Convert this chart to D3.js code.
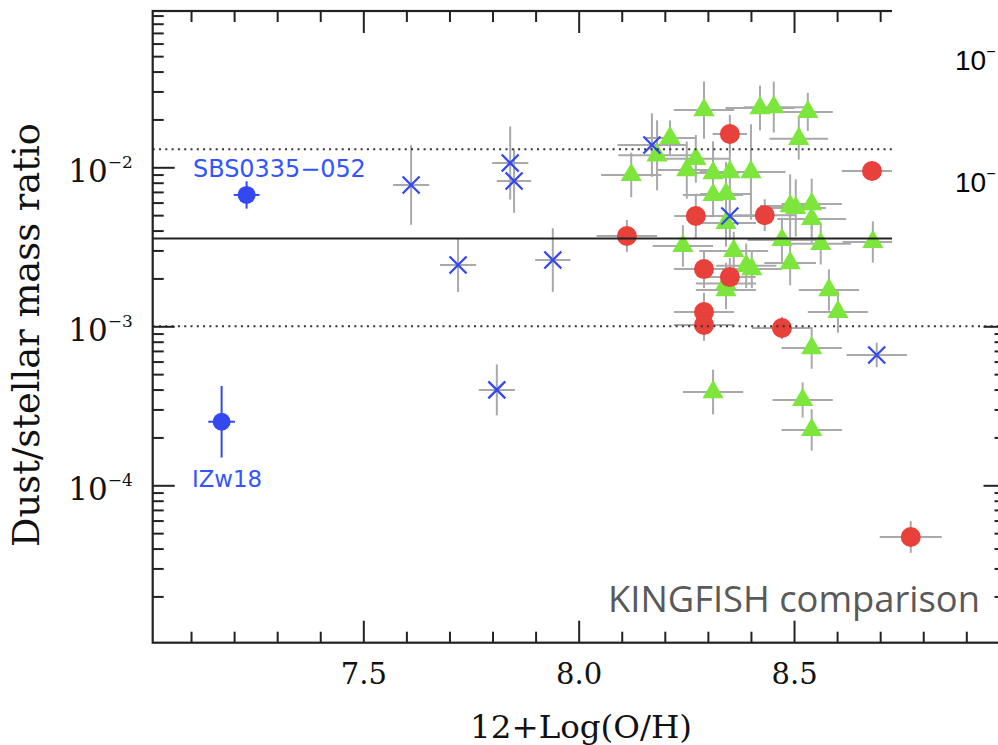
<!DOCTYPE html>
<html><head><meta charset="utf-8">
<script src="https://cdn.jsdelivr.net/npm/d3@7"></script>
<style>body{margin:0;background:#fff}svg{display:block}</style>
</head><body>
<script>
// ---------------- DATA ----------------
// KINGFISH galaxies (green triangles): 12+log(O/H), dust/stellar ratio, x error, y error (dex)
const triO     = [8.291,8.212,8.182,8.122,8.272,8.251,8.312,8.351,8.400,8.312,8.342,8.342,8.242,8.360,8.421,8.453,8.532,8.511,8.491,8.504,8.541,8.541,8.472,8.562,8.683,8.389,8.402,8.491,8.342,8.342,8.581,8.602,8.541,8.312,8.520,8.541];
const triRatio = [2.29e-2,1.53e-2,1.19e-2,8.95e-3,1.13e-2,9.6e-3,9.2e-3,9.34e-3,9.34e-3,6.7e-3,6.8e-3,4.47e-3,3.2e-3,2.98e-3,2.36e-2,2.39e-2,2.23e-2,1.51e-2,5.7e-3,5.55e-3,5.87e-3,4.73e-3,3.49e-3,3.3e-3,3.39e-3,2.4e-3,2.29e-3,2.5e-3,1.86e-3,1.69e-3,1.69e-3,1.23e-3,7.3e-4,3.86e-4,3.44e-4,2.23e-4];
const triXerr  = [0.07,0.058,0.09,0.07,0.08,0.07,0.06,0.07,0.08,0.07,0.06,0.07,0.07,0.08,0.08,0.07,0.058,0.068,0.07,0.07,0.07,0.08,0.08,0.07,0.07,0.07,0.07,0.06,0.07,0.07,0.07,0.07,0.07,0.07,0.07,0.07];
const triYerr  = [0.18,0.11,0.22,0.14,0.15,0.18,0.2,0.24,0.3,0.14,0.2,0.15,0.13,0.12,0.14,0.16,0.12,0.13,0.2,0.18,0.16,0.15,0.14,0.13,0.13,0.14,0.12,0.14,0.13,0.12,0.13,0.13,0.13,0.14,0.11,0.13];

// red circles
const redO     = [8.351,8.681,8.272,8.432,8.112,8.291,8.351,8.291,8.291,8.472,8.771];
const redRatio = [1.62e-2,9.48e-3,4.94e-3,5.0e-3,3.7e-3,2.29e-3,2.04e-3,1.23e-3,1.02e-3,9.76e-4,4.73e-5];
const redXerr  = [0.04,0.07,0.05,0.07,0.07,0.07,0.06,0.07,0.07,0.07,0.072];
const redYerr  = [0.12,0.06,0.14,0.1,0.1,0.12,0.12,0.12,0.1,0.07,0.1];

// blue crosses
const crossO     = [7.611,7.841,7.850,7.720,7.940,7.810,8.170,8.351,8.692];
const crossRatio = [7.74e-3,1.064e-2,8.2e-3,2.43e-3,2.61e-3,3.98e-4,1.38e-2,4.94e-3,6.6e-4];
const crossXerr  = [0.042,0.042,0.04,0.042,0.041,0.042,0.08,0.06,0.07];
const crossYerr  = [0.25,0.23,0.2,0.17,0.2,0.16,0.2,0.15,0.077];

// named low-metallicity dwarfs (blue filled circles)
const namedLabels = ["SBS0335\u2212052","IZw18"];
const namedO      = [7.229,7.171];
const namedRatio  = [6.7e-3,2.51e-4];
const namedXerr   = [0.03,0.031];
const namedYerr   = [0.086,0.225];

// reference lines
const dottedLevels = [1.3e-2,1.0e-3];
const solidLevel   = 3.57e-3;

// ticks
const xMajorTicks = [7.5,8.0,8.5];
const xMinorTicks = [7.1,7.2,7.3,7.4,7.6,7.7,7.8,7.9,8.1,8.2,8.3,8.4,8.6,8.7,8.8,8.9];
const yMajorTicks = [1e-2,1e-3,1e-4];
const yMinorTicks = [];
[-5,-4,-3,-2].forEach(e=>{for(let m=2;m<=9;m++) yMinorTicks.push(m*Math.pow(10,e));});

const xTitle = "12+Log(O/H)";
const yTitle = "Dust/stellar mass ratio";
const note   = "KINGFISH comparison";
const sideLabels = ["10","10"];   // cut-off labels of the neighbouring panel

// ---------------- LAYOUT ----------------
const W=998,H=745;
const L=152.7,R=1005.5,T=11,B=642.7;
const x = d3.scaleLinear().domain([7.011,8.991]).range([L,R]);
const y = d3.scaleLog().domain([Math.pow(10,-4.99),Math.pow(10,-1.017)]).range([B,T]);

const svg = d3.select("body").append("svg").attr("width",W).attr("height",H);

const C_GREEN="#7ce63c", C_RED="#e8403a", C_BLUE="#3448f2", C_ERR="#a9a9a9", C_AX="#222";

function pts(O,V,XE,YE){return O.map((o,i)=>({o,v:V[i],xe:XE[i],ye:YE[i]}));}
const tri=pts(triO,triRatio,triXerr,triYerr);
const red=pts(redO,redRatio,redXerr,redYerr);
const crs=pts(crossO,crossRatio,crossXerr,crossYerr);
const nam=pts(namedO,namedRatio,namedXerr,namedYerr);

// error bars
function errBars(data,color,w){
  const g=svg.append("g").attr("stroke",color).attr("stroke-width",w);
  g.selectAll(".h").data(data).join("line")
    .attr("x1",d=>x(d.o-d.xe)).attr("x2",d=>x(d.o+d.xe))
    .attr("y1",d=>y(d.v)).attr("y2",d=>y(d.v));
  g.selectAll(".v").data(data).join("line")
    .attr("x1",d=>x(d.o)).attr("x2",d=>x(d.o))
    .attr("y1",d=>y(d.v*Math.pow(10,-d.ye))).attr("y2",d=>y(d.v*Math.pow(10,d.ye)));
}
errBars(tri,C_ERR,2);
errBars(red,C_ERR,2);
errBars(crs,C_ERR,2);
errBars(nam,C_BLUE,2);

// markers
svg.append("g").selectAll("path").data(tri).join("path")
  .attr("d",d3.symbol(d3.symbolTriangle,195))
  .attr("transform",d=>`translate(${x(d.o)},${y(d.v)})`)
  .attr("fill",C_GREEN);
svg.append("g").selectAll("circle").data(red).join("circle")
  .attr("cx",d=>x(d.o)).attr("cy",d=>y(d.v)).attr("r",10).attr("fill",C_RED);
svg.append("g").selectAll("circle").data(nam).join("circle")
  .attr("cx",d=>x(d.o)).attr("cy",d=>y(d.v)).attr("r",9).attr("fill",C_BLUE);
svg.append("g").selectAll("path").data(crs).join("path")
  .attr("d",d3.symbol(d3.symbolX,190))
  .attr("transform",d=>`translate(${x(d.o)},${y(d.v)})`)
  .attr("fill","none").attr("stroke",C_BLUE).attr("stroke-width",2.3);

// reference lines
svg.append("g").selectAll("line").data(dottedLevels).join("line")
  .attr("x1",L).attr("x2",R).attr("y1",d=>y(d)).attr("y2",d=>y(d))
  .attr("stroke","#333").attr("stroke-width",2).attr("stroke-dasharray","2,4.3");
svg.append("line").attr("x1",L).attr("x2",R).attr("y1",y(solidLevel)).attr("y2",y(solidLevel))
  .attr("stroke","#222").attr("stroke-width",2);

// axes
function styleAxis(g){g.select(".domain").remove();g.selectAll(".tick line").attr("stroke",C_AX).attr("stroke-width",2);}
svg.append("g").attr("transform",`translate(0,${B})`)
  .call(d3.axisBottom(x).tickValues(xMajorTicks).tickSize(-22).tickSizeOuter(0).tickFormat(d3.format(".1f")))
  .call(styleAxis)
  .call(g=>g.selectAll("text").attr("y",41).attr("dy",null)
     .attr("font-family","DejaVu Serif").attr("font-size",29).attr("fill","#111"));
svg.append("g").attr("transform",`translate(0,${B})`)
  .call(d3.axisBottom(x).tickValues(xMinorTicks).tickSize(-11).tickFormat("")).call(styleAxis);
svg.append("g").attr("transform",`translate(0,${T})`)
  .call(d3.axisTop(x).tickValues(xMajorTicks).tickSize(-22).tickFormat("")).call(styleAxis);
svg.append("g").attr("transform",`translate(0,${T})`)
  .call(d3.axisTop(x).tickValues(xMinorTicks).tickSize(-11).tickFormat("")).call(styleAxis);

svg.append("g").attr("transform",`translate(${L},0)`)
  .call(d3.axisLeft(y).tickValues(yMajorTicks).tickSize(-22).tickPadding(20).tickFormat(d=>String(Math.round(Math.log10(d)))))
  .call(styleAxis)
  .call(g=>g.selectAll("text").each(function(d){
      const t=d3.select(this); const e=Math.round(Math.log10(d));
      t.text(null).attr("y",14.5).attr("dy",null).attr("font-family","DejaVu Serif").attr("fill","#111").attr("text-anchor","end");
      t.append("tspan").attr("font-size",31).text("10");
      t.append("tspan").attr("font-size",17).attr("dy",-14).text("\u2212"+Math.abs(e));
  }));
svg.append("g").attr("transform",`translate(${L},0)`)
  .call(d3.axisLeft(y).tickValues(yMinorTicks).tickSize(-11).tickFormat("")).call(styleAxis);
svg.append("g").attr("transform",`translate(${R},0)`)
  .call(d3.axisRight(y).tickValues(yMajorTicks).tickSize(-22).tickFormat("")).call(styleAxis);
svg.append("g").attr("transform",`translate(${R},0)`)
  .call(d3.axisRight(y).tickValues(yMinorTicks).tickSize(-11).tickFormat("")).call(styleAxis);

// frame
svg.append("rect").attr("x",L).attr("y",T).attr("width",R-L).attr("height",B-T)
  .attr("fill","none").attr("stroke",C_AX).attr("stroke-width",2.2);

// fitting helper
function fit(sel,target){const w=sel.node().getComputedTextLength();const fs=+sel.attr("font-size");sel.attr("font-size",fs*target/w);return sel;}

// axis titles
fit(svg.append("text").attr("x",581).attr("y",738).attr("text-anchor","middle")
  .attr("font-family","DejaVu Serif").attr("font-size",32).attr("fill","#111").text(xTitle),222);
fit(svg.append("text").attr("transform","translate(39,335) rotate(-90)").attr("text-anchor","middle")
  .attr("font-family","DejaVu Serif").attr("font-size",34).attr("fill","#111").text(yTitle),424);

// named labels
fit(svg.append("text").attr("x",193).attr("y",177).attr("font-family","DejaVu Sans")
  .attr("font-size",22).attr("fill","#3355ff").text(namedLabels[0]),173);
fit(svg.append("text").attr("x",192).attr("y",487).attr("font-family","DejaVu Sans")
  .attr("font-size",22).attr("fill","#3355ff").text(namedLabels[1]),70);

// overlapping panel (cut-off neighbour figure)
svg.append("rect").attr("x",892).attr("y",0).attr("width",W-892).attr("height",321).attr("fill","#fff");
[70,192].forEach((by,i)=>{
  const t=svg.append("text").attr("x",955).attr("y",by).attr("font-family","Liberation Sans").attr("fill","#000");
  t.append("tspan").attr("font-size",28).text(sideLabels[i]);
  t.append("tspan").attr("font-size",16).attr("dy",-13).text("\u2212");
});

// note
fit(svg.append("text").attr("x",608).attr("y",612).attr("font-family","Open Sans")
  .attr("font-size",34).attr("fill","#595959").text(note),372);
</script>
</body></html>
